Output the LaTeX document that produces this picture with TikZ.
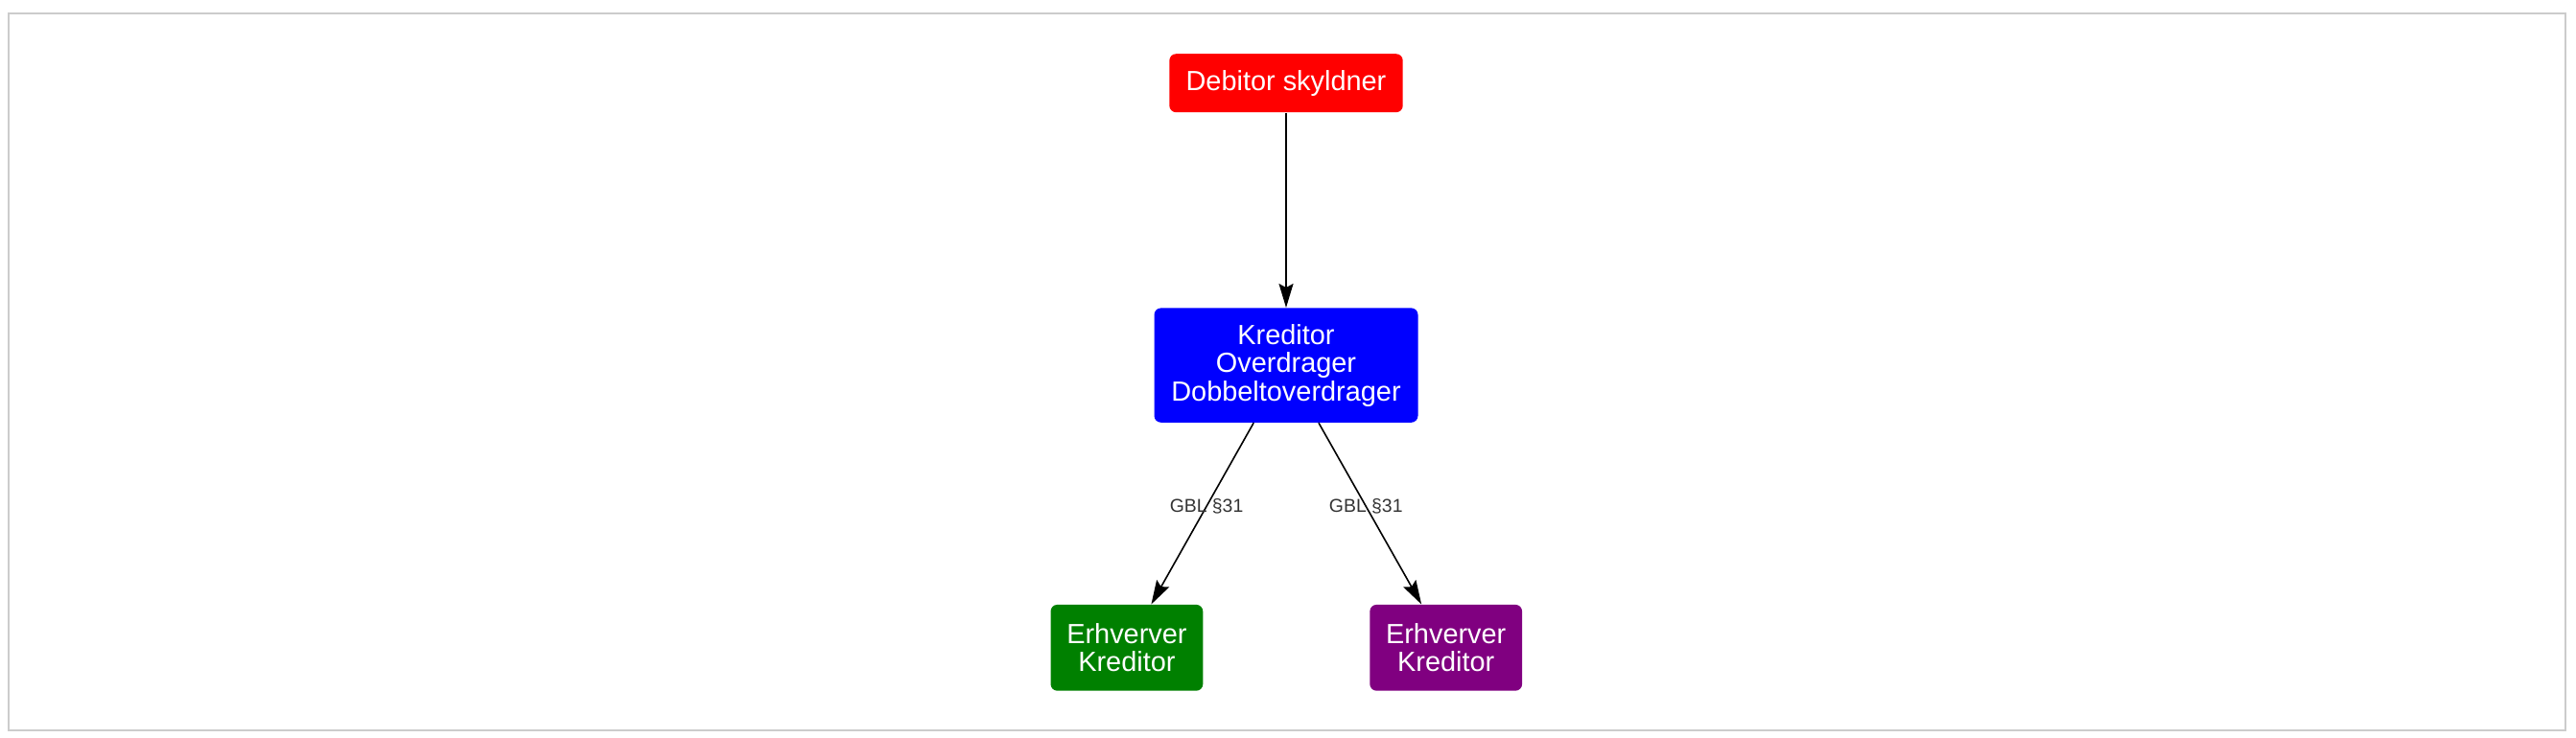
\documentclass[tikz,border=0pt]{standalone}
\usepackage{fontspec}
\setmainfont{Liberation Sans}
\usepackage{xcolor}
\usepackage{tikz}
\usetikzlibrary{positioning,arrows.meta}

\definecolor{framegray}{HTML}{CCCCCC}
\definecolor{labelgray}{HTML}{333333}

\tikzset{
    party/.style={rectangle, rounded corners=3.5pt, text=white, align=center,
        inner sep=0pt, font=\fontsize{14.45}{14.75}\selectfont},
    flow/.style={draw=black, line width=0.8pt,
        -{Stealth[length=12.5pt,width=7.5pt,inset=2pt]}},
    lbl/.style={text=labelgray, font=\fontsize{9.7}{11}\selectfont, inner sep=0pt}
}

\begin{document}
\begin{tikzpicture}
    \useasboundingbox (0,0) rectangle (1343pt,-385pt);
    \draw[framegray, line width=1pt] (4.3pt,-6.85pt) rectangle (1337.6pt,-381pt);

    \node [party, fill=red, minimum width=121.7pt, minimum height=30.5pt] (debitor) at (670.5pt,-43.35pt) {Debitor skyldner};
    \node [party, fill=blue, minimum width=137.5pt, minimum height=59.7pt, below=101.7pt of debitor] (kreditor) {Kreditor\\Overdrager\\Dobbeltoverdrager};
    \node [party, fill={rgb,255:red,0;green,128;blue,0}, minimum width=79.4pt, minimum height=44.9pt, below=94.65pt of kreditor, xshift=-83.05pt] (erhverver1) {Erhverver\\Kreditor};
    \node [party, fill={rgb,255:red,128;green,0;blue,128}, minimum width=79.4pt, minimum height=44.9pt, below=94.65pt of kreditor, xshift=83.35pt] (erhverver2) {Erhverver\\Kreditor};

    \draw [flow] (debitor) -- (kreditor);
    \draw [flow] (kreditor) -- node[lbl, pos=0.46] {GBL §31} (erhverver1);
    \draw [flow] (kreditor) -- node[lbl, pos=0.46] {GBL §31} (erhverver2);
\end{tikzpicture}
\end{document}
